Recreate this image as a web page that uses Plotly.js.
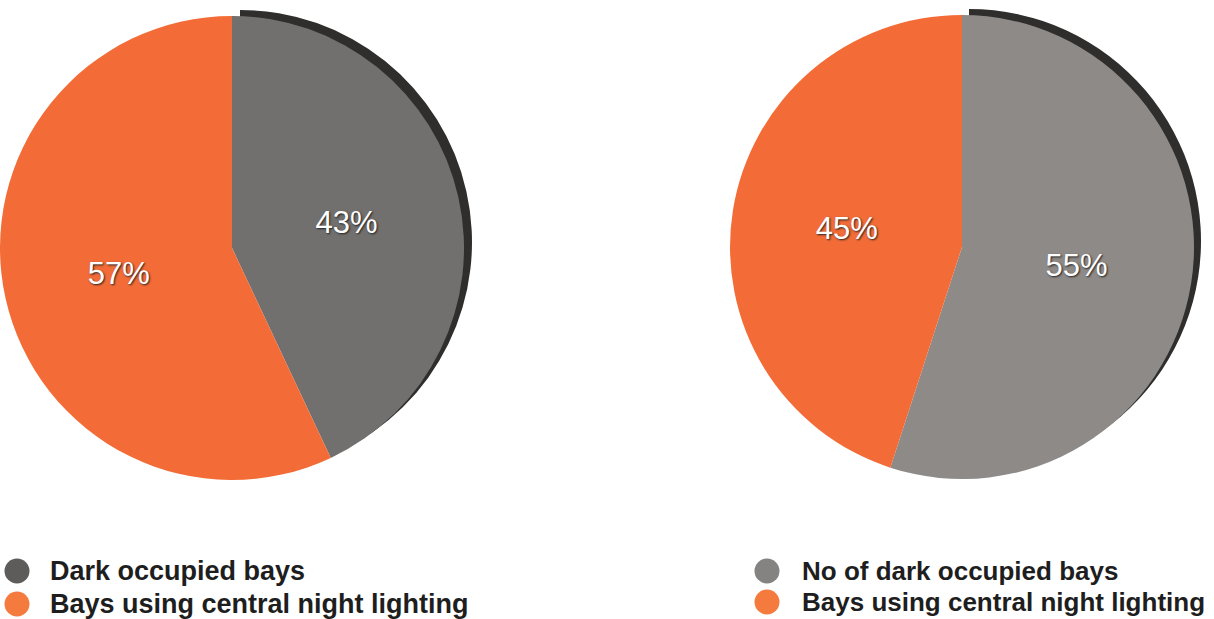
<!DOCTYPE html>
<html>
<head>
<meta charset="utf-8">
<script src="https://cdn.plot.ly/plotly-3.0.1.min.js"></script>
<style>
html,body{margin:0;padding:0;background:#fff;}
#chart{width:1214px;height:619px;}
</style>
</head>
<body>
<div id="chart"></div>
<script>
// Data
const leftLabels = ["Dark occupied bays", "Bays using central night lighting"];
const leftValues = [43, 57];
const rightLabels = ["No of dark occupied bays", "Bays using central night lighting"];
const rightValues = [55, 45];

const leftColors = ["#72706e", "#f36c37"];
const rightColors = ["#8e8a88", "#f36c37"];
const legendLeftDot = ["#5d5c5b", "#f47a3e"];
const legendRightDot = ["#858382", "#f47a3e"];

const W = 1214, H = 619;
const px = x => x / W;
const py = y => 1 - y / H;

function pieTrace(labels, values, colors, x0, x1, y0, y1) {
  return {
    type: "pie",
    labels: labels,
    values: values,
    sort: false,
    direction: "clockwise",
    rotation: 0,
    marker: {colors: colors, line: {width: 0}},
    textinfo: "percent",
    texttemplate: "%{percent:.0%}",
    textposition: "inside",
    insidetextorientation: "horizontal",
    textfont: {family: "Liberation Sans, Arial, sans-serif", size: 31, color: "#ffffff",
               shadow: "1px 1px 2px #222"},
    showlegend: false,
    hoverinfo: "label+percent",
    domain: {x: [px(x0), px(x1)], y: [py(y1), py(y0)]}
  };
}

function rimTrace(labels, values, x0, x1, y0, y1) {
  return {
    type: "pie",
    labels: labels,
    values: values,
    sort: false,
    direction: "clockwise",
    rotation: 0,
    marker: {colors: ["#2f2e2d", "rgba(0,0,0,0)"], line: {width: 0}},
    textinfo: "none",
    showlegend: false,
    hoverinfo: "skip",
    domain: {x: [px(x0), px(x1)], y: [py(y1), py(y0)]}
  };
}

const data = [
  rimTrace(leftLabels, leftValues, 8, 472, 10, 474),
  pieTrace(leftLabels, leftValues, leftColors, 0, 464, 16, 480),
  rimTrace(rightLabels, rightValues, 737, 1201, 9, 473),
  pieTrace(rightLabels, rightValues, rightColors, 730, 1194, 15, 479)
];

// Legends built from label arrays
const shapes = [];
const annotations = [];
function addLegend(labels, dots, dotX, textX, ys, fs) {
  labels.forEach((lab, i) => {
    const r = 12.5;
    shapes.push({
      type: "circle", xref: "paper", yref: "paper",
      x0: px(dotX - r), x1: px(dotX + r), y0: py(ys[i] + r), y1: py(ys[i] - r),
      fillcolor: dots[i], line: {width: 0}
    });
    annotations.push({
      xref: "paper", yref: "paper", x: px(textX), y: py(ys[i]),
      xanchor: "left", yanchor: "middle", showarrow: false,
      text: lab,
      font: {family: "Liberation Sans, Arial, sans-serif", size: fs, color: "#1e1e1e", weight: "bold"}
    });
  });
}
addLegend(leftLabels, legendLeftDot, 17, 48, [571, 604], 27);
addLegend(rightLabels, legendRightDot, 767, 800, [571, 602], 26);

const layout = {
  width: W, height: H,
  margin: {l: 0, r: 0, t: 0, b: 0},
  paper_bgcolor: "#ffffff",
  showlegend: false,
  shapes: shapes,
  annotations: annotations
};

Plotly.newPlot("chart", data, layout, {displayModeBar: false, staticPlot: true});
</script>
</body>
</html>
